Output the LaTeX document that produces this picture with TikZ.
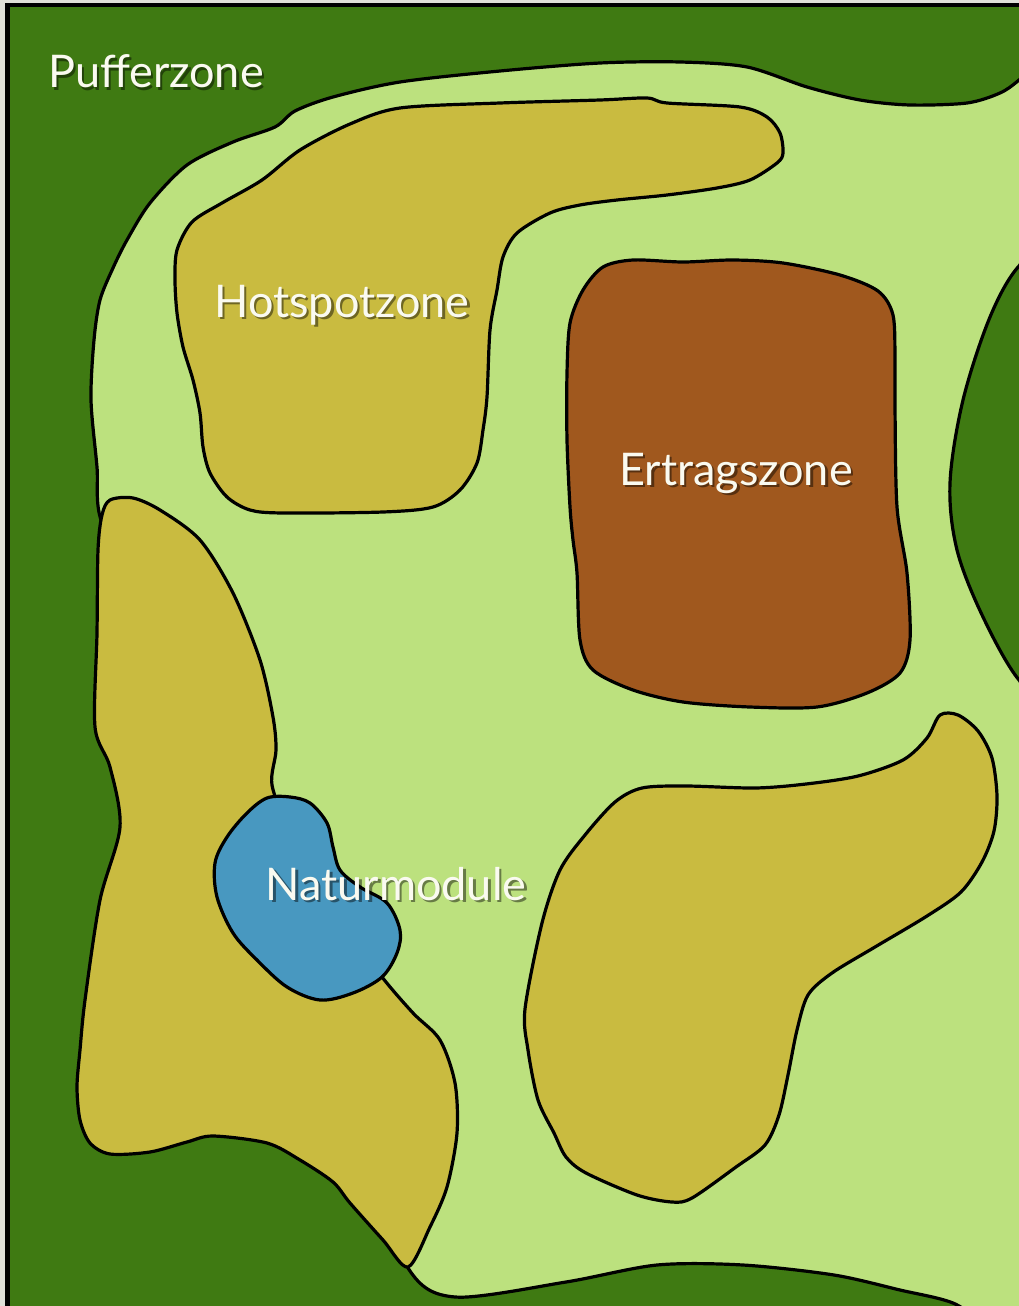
\documentclass[tikz,border=0pt]{standalone}
\usepackage{fontspec}
\newfontfamily\zonefont{Lato}
\definecolor{bggray}{RGB}{224,224,216}
\definecolor{dkgreen}{RGB}{63,122,18}
\definecolor{ltgreen}{RGB}{188,225,126}
\definecolor{olive}{RGB}{201,187,64}
\definecolor{brownzone}{RGB}{160,88,30}
\definecolor{pond}{RGB}{72,152,192}
\definecolor{labelwhite}{RGB}{250,250,240}
\begin{document}
\begin{tikzpicture}[x=1pt,y=-1pt,
  zone/.style={draw=black,line width=3.2pt,line join=round},
  lbl/.style={font=\zonefont\fontsize{45}{52}\selectfont,text=labelwhite,inner sep=0pt,anchor=base},
  lblshadow/.style={font=\zonefont\fontsize{45}{52}\selectfont,text=black,opacity=0.45,inner sep=0pt,anchor=base}]
\useasboundingbox (0,0) rectangle (1019,1306);
\fill[bggray] (0,0) rectangle (1019,1306);
\begin{scope}
\clip (0,0) rectangle (1019,1306);
\fill[dkgreen] (7.5,5) rectangle (1050,1340);
% light green open land
\filldraw[zone,fill=ltgreen] plot[smooth cycle,tension=0.5] coordinates {
 (140,600) (101,520) (97,467) (91,400) (94,340) (100,300) (113,268) (127,240)
 (150,203) (187,165) (233,142) (275,127) (295,111) (333,97) (400,82) (500,71)
 (600,63) (680,62) (747,67) (807,87) (860,100) (910,105) (967,103) (1000,93)
 (1019,80) (1045,55) (1070,45) (1070,1330) (1000,1330) (953,1303) (900,1290)
 (834,1275) (743,1265) (657,1265) (566,1282) (455,1297) (408,1268) (360,1150)
 (300,1000) (200,800)};
% right dark green lobe
\filldraw[zone,fill=dkgreen] plot[smooth cycle,tension=0.55] coordinates {
 (1060,240) (1019,266) (990,317) (963,400) (950,483) (957,550) (983,617)
 (1019,680) (1060,710)};
% left olive zone
\filldraw[zone,fill=olive] plot[smooth cycle,tension=0.5] coordinates {
 (110,500) (133,498) (160,510) (200,540) (233,593) (260,660) (273,717) (276,750)
 (272,785) (290,830) (340,920) (382,977) (413,1013) (440,1040) (455,1083) (457,1133)
 (447,1187) (430,1227) (408,1267) (383,1240) (350,1203) (333,1182) (300,1160)
 (267,1143) (213,1136) (187,1142) (150,1152) (110,1154) (90,1143) (80,1120)
 (77,1087) (80,1050) (85,1000) (100,900) (120,827) (110,767) (95,727) (97,633)
 (98,550) (102,515)};
% pond
\filldraw[zone,fill=pond] plot[smooth cycle,tension=0.55] coordinates {
 (290,797) (310,803) (327,823) (333,847) (340,870) (360,887) (387,903) (400,930)
 (397,953) (382,977) (353,993) (320,1000) (287,987) (257,960) (233,933) (217,897)
 (215,863) (227,837) (247,813) (267,798)};
% hotspot zone
\filldraw[zone,fill=olive] plot[smooth cycle,tension=0.5] coordinates {
 (175,280) (177,250) (192,222) (222,203) (262,180) (300,150) (350,124)
 (400,108) (500,103) (600,100) (647,98) (667,103) (740,107) (767,117) (780,133)
 (783,153) (777,163) (750,180) (717,188) (667,195) (617,200) (580,205) (550,213)
 (517,233) (503,257) (497,290) (490,330) (487,397) (483,430) (477,463) (460,490)
 (433,507) (383,512) (283,513) (250,510) (227,497) (210,473) (203,447) (200,413)
 (193,380) (183,347) (177,313)};
% yield zone
\filldraw[zone,fill=brownzone] plot[smooth cycle,tension=0.5] coordinates {
 (583,290) (603,267) (633,260) (683,262) (733,260) (783,263) (840,275) (878,291)
 (893,315) (895,360) (895,407) (897,507) (907,573) (910,640) (900,673) (867,693) (817,707)
 (750,707) (683,702) (633,690) (593,670) (580,640) (577,573) (573,540) (570,507)
 (567,440) (567,373) (570,323)};
% lower right olive zone
\filldraw[zone,fill=olive] plot[smooth cycle,tension=0.5] coordinates {
 (525,1009) (542,923) (560,870) (585,835) (615,802) (642,788) (686,786) (755,788)
 (806,784) (858,776) (903,760) (927,738) (940,715) (958,715) (978,731) (992,758)
 (997,796) (994,831) (982,862) (961,892) (927,916) (875,947) (832,973) (808,995)
 (797,1030) (788,1075) (779,1115) (765,1145) (736,1167) (692,1198) (672,1202) (637,1195)
 (586,1173) (566,1157) (554,1133) (538,1100) (528,1050)};
\end{scope}
% frame
\draw[line width=4.5pt] (7.5,1320) -- (7.5,5) -- (1030,5);
% labels
\node[lblshadow] (pufferS) at (158.5,90.5) {Pufferzone};
\node[lbl] (puffer) at (156,88) {Pufferzone};
\node[lblshadow] (hotS) at (344.5,319.5) {Hotspotzone};
\node[lbl] (hot) at (342,317) {Hotspotzone};
\node[lblshadow] (ertragS) at (738.5,487.5) {Ertragszone};
\node[lbl] (ertrag) at (736,485) {Ertragszone};
\node[lblshadow] (naturS) at (398.5,902.5) {Naturmodule};
\node[lbl] (natur) at (396,900) {Naturmodule};
\end{tikzpicture}
\end{document}
